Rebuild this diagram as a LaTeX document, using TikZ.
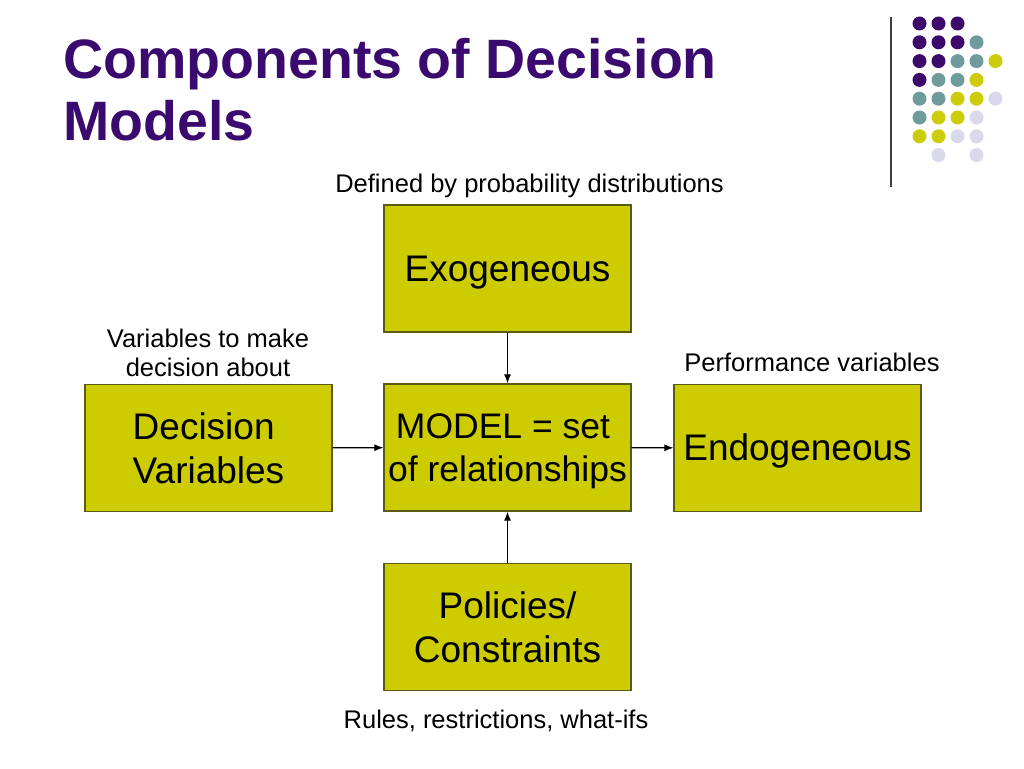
\documentclass[tikz,border=0pt]{standalone}
\usepackage{fontspec}
\setmainfont{Liberation Sans}
\usetikzlibrary{arrows.meta}
\definecolor{titlepurple}{HTML}{3A0A6E}
\definecolor{boxfill}{HTML}{CCCC00}
\definecolor{boxline}{HTML}{5A5A10}
\definecolor{dotP}{HTML}{3D0A6B}
\definecolor{dotT}{HTML}{6E9C9C}
\definecolor{dotY}{HTML}{CCCC0A}
\definecolor{dotL}{HTML}{D9D9EB}
\newcommand{\bxs}{\rule[-6pt]{0pt}{39pt}}
\tikzset{
  box/.style={draw=boxline, line width=1.2pt, fill=boxfill, minimum width=247pt, minimum height=127pt, inner sep=0pt, font=\fontsize{37}{44}\selectfont},
  caption/.style={font=\fontsize{25.5}{29}\selectfont, inner sep=0pt, align=center},
  conn/.style={-{Latex[length=9pt,width=7pt]}, line width=1.1pt, black},
  dotc/.style={circle, inner sep=0pt, minimum size=14pt},
  ttl/.style={anchor=base west, inner sep=0pt, text=titlepurple, font=\fontsize{55.5}{68}\selectfont\bfseries},
}
\begin{document}
\begin{tikzpicture}[x=1pt,y=-1pt]
\useasboundingbox (0,0) rectangle (1024,768);
\fill[white] (0,0) rectangle (1024,768);
% title
\node[ttl] (t1) at (63,78) {Components of Decision};
\node[ttl] (t2) at (63,140) {Models};
% decoration
\coordinate (va) at (891,17);
\coordinate (vb) at (891,187);
\draw[line width=1.4pt, black!75] (va) -- (vb);
\foreach \c/\r/\col in {0/0/dotP,1/0/dotP,2/0/dotP,
  0/1/dotP,1/1/dotP,2/1/dotP,3/1/dotT,
  0/2/dotP,1/2/dotP,2/2/dotT,3/2/dotT,4/2/dotY,
  0/3/dotP,1/3/dotT,2/3/dotT,3/3/dotY,
  0/4/dotT,1/4/dotT,2/4/dotY,3/4/dotY,4/4/dotL,
  0/5/dotT,1/5/dotY,2/5/dotY,3/5/dotL,
  0/6/dotY,1/6/dotY,2/6/dotL,3/6/dotL,
  1/7/dotL,3/7/dotL}
  \node[dotc, fill=\col] (d\c\r) at ({919.5+19*\c},{23.5+18.8*\r}) {};
% boxes
\node[box] (exo) at (507.5,268.5) {\bxs Exogeneous};
\node[box, align=center, font=\fontsize{35.5}{43}\selectfont] (model) at (507.5,447.5) {\bxs MODEL = set\hspace*{9pt}\\\bxs of relationships};
\node[box, align=left] (dec) at (208.5,448) {\bxs Decision\\\bxs Variables};
\node[box] (endo) at (797.5,448) {\bxs Endogeneous};
\node[box, align=center] (pol) at (507.5,627) {\bxs Policies/\\\bxs Constraints};
% captions
\node[caption, anchor=base] (cexo) at (529.5,192) {Defined by probability distributions};
\node[caption] (cdec) at (208,353) {Variables to make\\decision about};
\node[caption, anchor=base] (cendo) at (812,371) {Performance variables};
\node[caption, anchor=base] (cpol) at (496,728) {Rules, restrictions, what-ifs};
% connectors
\draw[conn] (exo) -- (model);
\draw[conn] (pol) -- (model);
\draw[conn] (dec) -- (model);
\draw[conn] (model) -- (endo);
\end{tikzpicture}
\end{document}
